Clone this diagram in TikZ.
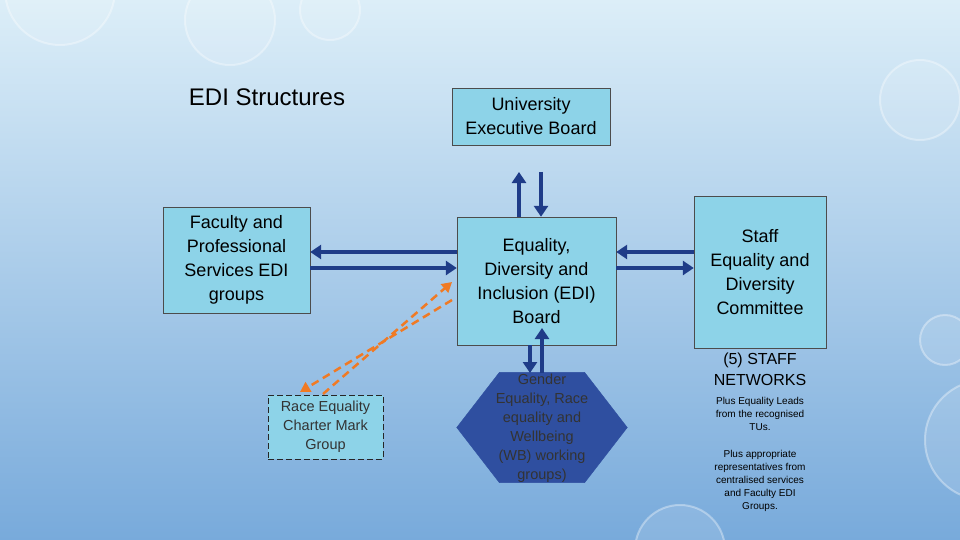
\documentclass[tikz,border=0pt]{standalone}
\usepackage{fontspec}
\setmainfont{Liberation Sans}
\usetikzlibrary{arrows.meta,shapes.geometric}
\definecolor{boxc}{HTML}{8DD3E8}
\definecolor{arr}{HTML}{1F3C88}
\definecolor{hexc}{HTML}{2F4FA0}
\definecolor{orng}{HTML}{F07A24}
\definecolor{bgtop}{HTML}{DCEEF8}
\definecolor{bgbot}{HTML}{78AADB}
\begin{document}
\begin{tikzpicture}[x=1pt,y=-1pt,
  bx/.style={draw=black!70,fill=boxc,align=center,inner sep=2pt,font=\fontsize{18}{24}\selectfont},
  ba/.style={draw=arr,line width=3.5pt,-{Triangle[length=11pt,width=14pt]}},
  oa/.style={draw=orng,line width=2.5pt,dash pattern=on 8pt off 5pt,-{Triangle[length=10pt,width=11pt]}}]
\shade[top color=bgtop,bottom color=bgbot] (0,0) rectangle (960,540);
\useasboundingbox (0,0) rectangle (960,540);
\foreach \cx/\cy/\r in {60/-10/55,230/20/45,330/10/30,920/100/40,945/340/25,985/440/60,680/550/45}
  \draw[white,opacity=0.35,line width=2pt,fill=white,fill opacity=0.12] (\cx,\cy) circle (\r);
\node[font=\fontsize{24}{28}\selectfont] (title) at (267,97) {EDI Structures};
\node[bx,minimum width=158pt,minimum height=57pt] (ueb) at (531,116.5) {University\\Executive Board};
\node[bx,minimum width=159pt,minimum height=128pt] (edi) at (536.5,281) {Equality,\\Diversity and\\Inclusion (EDI)\\Board};
\node[bx,minimum width=132pt,minimum height=152pt] (staff) at (760,272) {Staff\\Equality and\\Diversity\\Committee};
\node[bx,minimum width=147pt,minimum height=106pt] (fac) at (236.5,260) {Faculty and\\Professional\\Services EDI\\groups};
\node[draw=black!85,line width=0.8pt,dash pattern=on 6pt off 3pt,fill=boxc,align=center,minimum width=115pt,minimum height=64pt,font=\fontsize{14.5}{19}\selectfont,text=black!80] (race) at (325.5,427) {Race Equality\\Charter Mark\\Group};
\node[regular polygon,regular polygon sides=6,fill=hexc,draw=hexc,inner sep=0pt,
  minimum size=196pt,xscale=0.87,yscale=0.65] (hex) at (542,427.5) {};
\node[align=center,text=black!80,font=\fontsize{14.5}{19}\selectfont] (hext) at (542,428) {Gender\\Equality, Race\\equality and\\Wellbeing\\(WB) working\\groups)};
\node[align=center,font=\fontsize{16}{21}\selectfont] (net) at (760,369) {(5) STAFF\\NETWORKS};
\node[align=center,font=\fontsize{10}{13}\selectfont] (plus) at (760,414) {Plus Equality Leads\\from the recognised\\TUs.};
\node[align=center,font=\fontsize{10}{13}\selectfont] (plus2) at (760,481) {Plus appropriate\\representatives from\\centralised services\\and Faculty EDI\\Groups.};
\coordinate (u1) at (519,172); \coordinate (u2) at (541,172);
\draw[ba] (edi.north-|u1) -- (u1);
\draw[ba] (u2) -- (edi.north-|u2);
\coordinate (l1) at (0,252); \coordinate (l2) at (0,268);
\draw[ba] (edi.west|-l1) -- (fac.east|-l1);
\draw[ba] (fac.east|-l2) -- (edi.west|-l2);
\draw[ba] (staff.west|-l1) -- (edi.east|-l1);
\draw[ba] (edi.east|-l2) -- (staff.west|-l2);
\coordinate (h1) at (530,373); \coordinate (h2) at (542,373);
\draw[ba] (edi.south-|h1) -- (h1);
\draw[ba] (h2) -- (542,328);
\coordinate (o1) at (452,300); \coordinate (o2) at (452,282);
\coordinate (r1) at (300,392); \coordinate (r2) at (323,394);
\draw[oa] (o1) -- (r1);
\draw[oa] (r2) -- (o2);
\end{tikzpicture}
\end{document}
